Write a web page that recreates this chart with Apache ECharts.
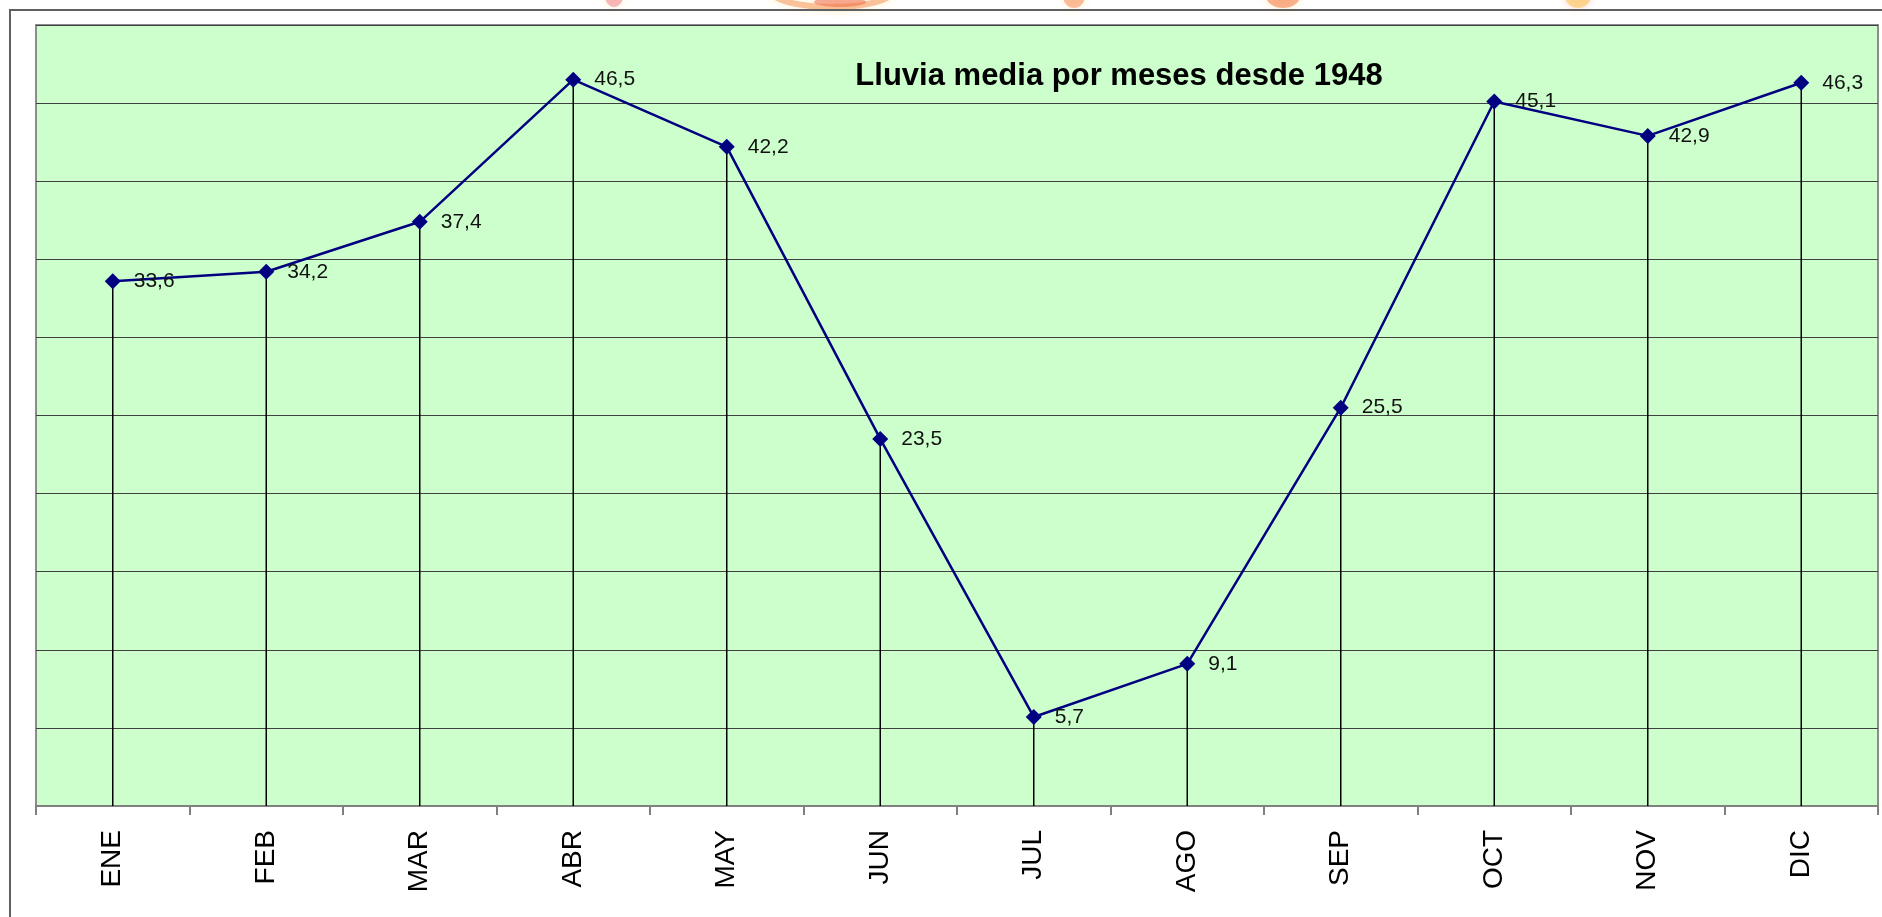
<!DOCTYPE html>
<html>
<head>
<meta charset="utf-8">
<title>Lluvia media por meses desde 1948</title>
<script src="https://cdn.jsdelivr.net/npm/echarts@6/dist/echarts.min.js"></script>
<style>
  html, body { margin: 0; padding: 0; background: #ffffff; }
  #chart { width: 1882px; height: 917px; }
</style>
</head>
<body>
<div id="chart"></div>
<script>
// Monthly rainfall averages (l/m²) since 1948
const months = ['ENE', 'FEB', 'MAR', 'ABR', 'MAY', 'JUN', 'JUL', 'AGO', 'SEP', 'OCT', 'NOV', 'DIC'];
const rainfall = [33.6, 34.2, 37.4, 46.5, 42.2, 23.5, 5.7, 9.1, 25.5, 45.1, 42.9, 46.3];
const chartTitle = 'Lluvia media por meses desde 1948';

const FONT = '"Liberation Sans", Arial, sans-serif';

// Faint decorative blobs peeking in above the chart frame
const blobs = [
  { type: 'ellipse', shape: { cx: 614, cy: -4, rx: 9, ry: 11 }, style: { fill: 'rgba(240,130,150,0.55)', shadowBlur: 8, shadowColor: 'rgba(255,215,140,0.8)' } },
  { type: 'ellipse', shape: { cx: 832, cy: -10, rx: 62, ry: 17 }, style: { fill: 'none', stroke: 'rgba(245,150,90,0.55)', lineWidth: 6, shadowBlur: 10, shadowColor: 'rgba(255,225,150,0.9)' } },
  { type: 'ellipse', shape: { cx: 840, cy: 2, rx: 26, ry: 5 }, style: { fill: 'rgba(235,90,60,0.45)', shadowBlur: 8, shadowColor: 'rgba(255,180,120,0.8)' } },
  { type: 'ellipse', shape: { cx: 1074, cy: -4, rx: 11, ry: 12 }, style: { fill: 'rgba(245,140,90,0.55)', shadowBlur: 8, shadowColor: 'rgba(255,220,150,0.8)' } },
  { type: 'ellipse', shape: { cx: 1283, cy: -4, rx: 17, ry: 12 }, style: { fill: 'rgba(245,120,70,0.55)', shadowBlur: 8, shadowColor: 'rgba(255,210,130,0.8)' } },
  { type: 'ellipse', shape: { cx: 1578, cy: -4, rx: 13, ry: 12 }, style: { fill: 'rgba(250,200,90,0.6)', shadowBlur: 8, shadowColor: 'rgba(255,150,120,0.6)' } }
].map(b => Object.assign({ silent: true, z: 0 }, b));

const chart = echarts.init(document.getElementById('chart'), null, { renderer: 'canvas' });

chart.setOption({
  backgroundColor: '#ffffff',
  animation: false,
  textStyle: { fontFamily: FONT },
  graphic: blobs.concat([
    {
      // chart-area frame
      type: 'rect',
      silent: true,
      z: 1,
      shape: { x: 10, y: 10, width: 1900, height: 1000 },
      style: { fill: 'none', stroke: '#606060', lineWidth: 2 }
    },
    {
      type: 'text',
      silent: true,
      z: 10,
      x: 1119,
      y: 76,
      style: {
        text: chartTitle,
        fill: '#000000',
        font: 'bold 31px ' + FONT,
        textAlign: 'center',
        textVerticalAlign: 'middle'
      }
    }
  ]),
  grid: {
    left: 36,
    right: 4,
    top: 25,
    bottom: 111,
    show: true,
    backgroundColor: '#ccffcc',
    borderColor: '#8c8c8c',
    borderWidth: 2
  },
  xAxis: {
    type: 'category',
    data: months,
    boundaryGap: true,
    axisLine: { show: true, lineStyle: { color: '#808080', width: 2 } },
    axisTick: { show: true, length: 9, lineStyle: { color: '#808080', width: 2 } },
    axisLabel: {
      rotate: 90,
      margin: 24,
      color: '#000000',
      fontFamily: FONT,
      fontSize: 28
    },
    splitLine: { show: false }
  },
  yAxis: {
    type: 'value',
    min: 0,
    max: 50,
    interval: 5,
    axisLine: { show: false },
    axisTick: { show: false },
    axisLabel: { show: false },
    splitLine: { show: true, lineStyle: { color: '#404040', width: 1.2 } }
  },
  series: [
    {
      // drop lines from each point down to the axis
      type: 'bar',
      data: rainfall,
      barWidth: 1.5,
      itemStyle: { color: '#000000' },
      silent: true,
      z: 2
    },
    {
      type: 'line',
      data: rainfall,
      symbol: 'diamond',
      symbolSize: 16,
      lineStyle: { color: '#000080', width: 2.5 },
      itemStyle: { color: '#000080' },
      label: {
        show: true,
        position: 'right',
        distance: 13,
        color: '#111111',
        fontFamily: FONT,
        fontSize: 21,
        formatter: p => String(p.value).replace('.', ',')
      },
      z: 3
    }
  ]
});
</script>
</body>
</html>
